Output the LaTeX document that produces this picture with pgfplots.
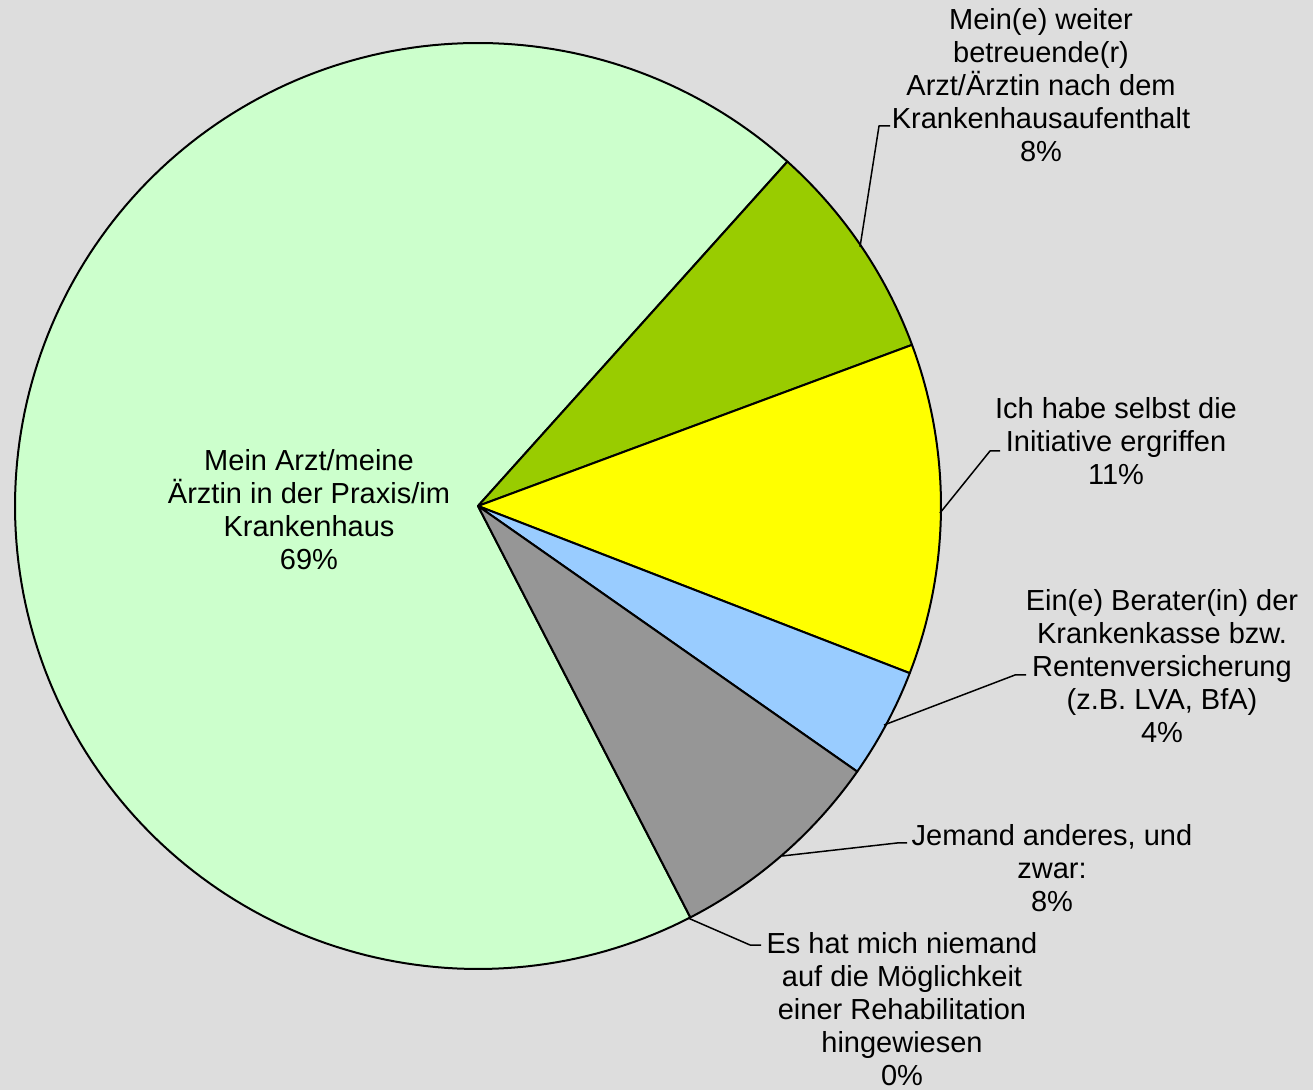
\documentclass[border=0pt]{standalone}
\usepackage{pgfplots}
\usepackage{pgfplotstable}
\pgfplotsset{compat=1.18}
\usepackage{fontspec}
\setmainfont{Liberation Sans}
\definecolor{bgc}{HTML}{DDDDDD}
\definecolor{cA}{HTML}{99CC00}
\definecolor{cB}{HTML}{FFFF00}
\definecolor{cC}{HTML}{99CCFF}
\definecolor{cD}{HTML}{969696}
\definecolor{cF}{HTML}{CCFFCC}

% counts per answer (clockwise from the start angle)
\pgfplotstableread{
idx count
1 18
2 27
3 9
4 18
5 0
6 162
}\piedata
\pgfplotstablegetelem{0}{count}\of\piedata \let\vA\pgfplotsretval
\pgfplotstablegetelem{1}{count}\of\piedata \let\vB\pgfplotsretval
\pgfplotstablegetelem{2}{count}\of\piedata \let\vC\pgfplotsretval
\pgfplotstablegetelem{3}{count}\of\piedata \let\vD\pgfplotsretval
\pgfplotstablegetelem{4}{count}\of\piedata \let\vE\pgfplotsretval
\pgfplotstablegetelem{5}{count}\of\piedata \let\vF\pgfplotsretval
\pgfmathsetmacro\tot{\vA+\vB+\vC+\vD+\vE+\vF}
\pgfmathsetmacro\aA{48.06}
\pgfmathsetmacro\aB{\aA-360*(\vA/\tot)}
\pgfmathsetmacro\aC{\aB-360*(\vB/\tot)}
\pgfmathsetmacro\aD{\aC-360*(\vC/\tot)}
\pgfmathsetmacro\aE{\aD-360*(\vD/\tot)}
\pgfmathsetmacro\aF{\aE-360*(\vE/\tot)}
\pgfmathsetmacro\aG{\aF-360*(\vF/\tot)}

\begin{document}
\begin{tikzpicture}
\begin{axis}[
  scale only axis, width=656.5pt, height=545pt,
  xmin=0, xmax=1313, ymin=0, ymax=1090, y dir=reverse,
  hide axis, clip=false,
  every axis plot/.append style={line join=round},
]
\addplot[fill=bgc, draw=none] coordinates {(0,0) (1313,0) (1313,1090) (0,1090)} -- cycle;
% slices
\addplot[fill=cF, draw=black, line width=1pt, domain=\aG:\aF, samples=200, variable=\t]
  ({478+463*cos(\t)}, {506-463*sin(\t)}) -- (axis cs:478,506) -- cycle;
\addplot[fill=cA, draw=black, line width=1pt, domain=\aB:\aA, samples=40, variable=\t]
  ({478+463*cos(\t)}, {506-463*sin(\t)}) -- (axis cs:478,506) -- cycle;
\addplot[fill=cB, draw=black, line width=1pt, domain=\aC:\aB, samples=50, variable=\t]
  ({478+463*cos(\t)}, {506-463*sin(\t)}) -- (axis cs:478,506) -- cycle;
\addplot[fill=cC, draw=black, line width=1pt, domain=\aD:\aC, samples=25, variable=\t]
  ({478+463*cos(\t)}, {506-463*sin(\t)}) -- (axis cs:478,506) -- cycle;
\addplot[fill=cD, draw=black, line width=1pt, domain=\aE:\aD, samples=40, variable=\t]
  ({478+463*cos(\t)}, {506-463*sin(\t)}) -- (axis cs:478,506) -- cycle;
% leader lines
\addplot[black, line width=0.75pt] coordinates {(860,247) (879,126) (890,126)};
\addplot[black, line width=0.75pt] coordinates {(940,513) (990,451) (1000,451)};
\addplot[black, line width=0.75pt] coordinates {(884,725) (1015,675) (1026,675)};
\addplot[black, line width=0.75pt] coordinates {(782,856) (897,843) (907,843)};
\addplot[black, line width=0.75pt] coordinates {(688,918) (750,945) (761,945)};
% labels
\begin{scope}[every node/.style={align=center, inner sep=0pt, font=\fontsize{14.5}{16.5}\selectfont}]
\node at (axis cs:1041,85) {Mein(e) weiter\\betreuende(r)\\Arzt/Ärztin nach dem\\Krankenhausaufenthalt\\8\%};
\node at (axis cs:1116,441) {Ich habe selbst die\\Initiative ergriffen\\11\%};
\node at (axis cs:1162,666) {Ein(e) Berater(in) der\\Krankenkasse bzw.\\Rentenversicherung\\(z.B. LVA, BfA)\\4\%};
\node at (axis cs:1052,868) {Jemand anderes, und\\zwar:\\8\%};
\node at (axis cs:902,1009) {Es hat mich niemand\\auf die Möglichkeit\\einer Rehabilitation\\hingewiesen\\0\%};
\node at (axis cs:309,510) {Mein Arzt/meine\\Ärztin in der Praxis/im\\Krankenhaus\\69\%};
\end{scope}
\end{axis}
\pgfresetboundingbox
\path[use as bounding box] (current axis.south west) rectangle (current axis.north east);
\end{tikzpicture}
\end{document}
